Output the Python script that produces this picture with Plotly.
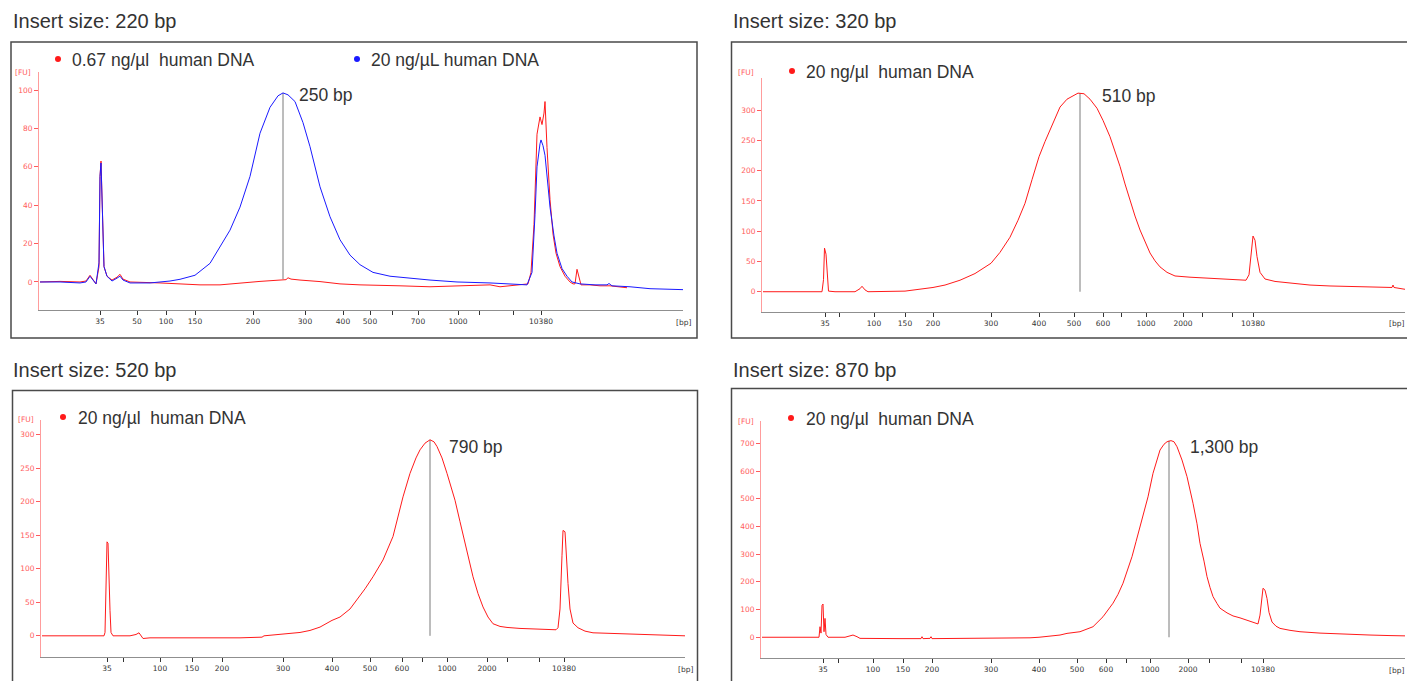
import plotly.graph_objects as go

W, H = 1407, 681

# ---------------- data (migration position units along each trace; FU values) ----------------
# Panel 1: Insert size 220 bp
p1_title = "Insert size: 220 bp"
p1_tick_pos = [61, 98, 127, 156, 214, 266, 304, 331, 353, 379, 419, 440, 474, 502]
p1_tick_lbl = ["35", "50", "100", "150", "200", "300", "400", "500", "", "700", "1000", "", "", "10380"]
p1_y_ticks = [0, 20, 40, 60, 80, 100]
p1_red_t = [1, 21, 41, 47, 51, 54, 57, 60, 61, 62, 63, 65, 68, 73, 78, 81, 84, 91, 121, 141, 161, 181, 201,
            221, 241, 247, 249, 252, 261, 281, 301, 321, 361, 391, 421, 451, 461, 476, 489, 492, 495, 498,
            501, 503, 505, 506, 507, 508, 511, 514, 517, 521, 526, 531, 534, 536, 538, 540, 542, 551, 561,
            571, 588]
p1_red_fu = [0, 0.3, 0, 0.5, 3.5, 1, -1, 8, 55, 63, 45, 8, 3, 1, 2.5, 4, 1.5, 0, -0.5, -1, -1.5, -1.5, -0.5,
             0.3, 1, 1.2, 2.2, 1.5, 1, 0.2, -1, -1.5, -2, -2.5, -2, -1.5, -2.5, -1.5, -1, 5, 30, 77,
             86, 82, 88, 94, 81, 70, 43, 25, 15, 8, 3, 0, -1, -1, 6.6, 2, -1.5, -1.5, -2,
             -2, -3]
p1_blue_t = [1, 21, 41, 47, 51, 54, 57, 60, 61, 62, 63, 65, 68, 73, 78, 81, 84, 91, 111, 121, 131, 141, 156,
             171, 181, 191, 201, 211, 221, 231, 239, 244, 249, 256, 264, 271, 281, 291, 301, 311, 321, 334,
             351, 368, 391, 418, 451, 488, 493, 496, 498, 501, 502, 504, 506, 509, 511, 515, 518, 523, 528,
             533, 541, 556, 568, 570, 573, 591, 611, 644]
p1_blue_fu = [0, 0, -0.5, 0, 3, 1, -1, 10, 55, 62, 45, 8, 3, 0.5, 2, 3, 1, -0.5, -0.5, 0, 0.5, 1.4, 3.5,
              9.7, 18, 27, 39, 55, 77.5, 91, 97, 98.5, 97.5, 94, 83, 70.5, 49.6, 34, 22, 14, 9, 5,
              3, 2, 1, 0, -0.5, -1.5, 5, 35, 60, 72, 74, 71, 66, 50, 39, 24, 15, 7, 3,
              0, -1, -1.5, -1.5, -0.8, -2, -2.5, -3.5, -4]
p1_peak = dict(t=244, top=98.5, base=1.5, label="250 bp")
p1_series = ["0.67 ng/µl  human DNA", "20 ng/µL human DNA"]

# Panel 2: Insert size 320 bp
p2_title = "Insert size: 320 bp"
p2_tick_pos = [63, 77, 112, 143, 171, 229, 277, 312, 341, 359, 384, 421, 440, 470, 491]
p2_tick_lbl = ["35", "", "100", "150", "200", "300", "400", "500", "600", "", "1000", "2000", "", "", "10380"]
p2_y_ticks = [0, 50, 100, 150, 200, 250, 300]
p2_t = [1, 38, 60, 61.5, 62.5, 64, 65, 66.5, 73, 93, 98, 100, 103, 106, 143, 158, 171, 183, 198, 213, 229,
        238, 248, 256, 263, 270, 277, 283, 288, 293, 298, 305, 310, 316, 322, 328, 335, 341, 348, 353,
        358, 363, 368, 373, 378, 383, 388, 393, 398, 405, 413, 428, 448, 468, 484, 487, 489, 491, 493,
        495, 498, 503, 513, 528, 548, 568, 598, 618, 630, 631, 632, 643]
p2_fu = [0, 0, 0, 20, 72, 62, 30, 1, 0, 0, 5, 9, 3, 0, 1, 4, 7, 11, 19, 30, 47,
         65, 90, 118, 146, 185, 223, 248, 267, 287, 305, 318, 323, 328, 327, 318, 303, 283, 256, 232,
         207, 178, 151, 125, 102, 82, 64, 51, 41, 32, 26, 24, 22, 20, 19, 28, 60, 92, 85,
         58, 32, 21, 17, 14, 11, 9.5, 8, 7, 7, 11, 7, 4]
p2_peak = dict(t=318, top=328, base=0, label="510 bp")
p2_series = ["20 ng/µl  human DNA"]

# Panel 3: Insert size 520 bp
p3_title = "Insert size: 520 bp"
p3_tick_pos = [66, 82, 119, 151, 181, 242, 291, 329, 361, 381, 406, 446, 466, 498, 523]
p3_tick_lbl = ["35", "", "100", "150", "200", "300", "400", "500", "600", "", "1000", "2000", "", "", "10380"]
p3_y_ticks = [0, 50, 100, 150, 200, 250, 300]
p3_t = [1, 39, 63, 64, 65, 66, 67, 68, 69, 70, 72, 89, 95, 98, 100, 102, 109, 149, 179, 199, 221, 223,
        242, 259, 269, 279, 291, 299, 309, 317, 324, 332, 342, 352, 362, 369, 375, 379, 384, 389, 393,
        396, 401, 406, 410, 414, 419, 424, 428, 432, 437, 442, 447, 452, 459, 466, 479, 499, 515, 517,
        519, 521, 522, 524, 525, 527, 529, 532, 537, 544, 552, 569, 599, 619, 644]
p3_fu = [0, 0, 0, 5, 56, 140, 138, 60, 38, 5, 0, 0, 2, 4.5, 1, -4, -3, -3.5, -3, -3, -2, 0,
         2.5, 5, 8, 13, 23, 28, 40, 56, 70, 88, 113, 148, 207, 242, 265, 277, 287, 292, 289,
         282, 265, 242, 222, 202, 170, 138, 112, 88, 63, 43, 28, 18, 14, 12.5, 11, 9.5, 9, 12,
         40, 120, 157, 155, 125, 78, 40, 19, 12, 7, 4.5, 3.5, 2, 1, 0]
p3_peak = dict(t=389, top=292, base=0, label="790 bp")
p3_series = ["20 ng/µl  human DNA"]

# Panel 4: Insert size 870 bp
p4_title = "Insert size: 870 bp"
p4_tick_pos = [62, 77, 112, 142, 171, 230, 278, 316, 345, 365, 389, 427, 448, 480, 502]
p4_tick_lbl = ["35", "", "100", "150", "200", "300", "400", "500", "600", "", "1000", "2000", "", "", "10380"]
p4_y_ticks = [0, 100, 200, 300, 400, 500, 600, 700]
p4_t = [1, 39, 58, 59, 60, 61, 62, 63, 64, 65, 67, 84, 89, 92, 96, 99, 139, 160, 161, 162, 169, 170, 171,
        229, 234, 239, 269, 278, 289, 299, 306, 319, 332, 342, 352, 357, 362, 367, 371, 375, 379, 383,
        387, 392, 396, 399, 403, 406, 410, 413, 416, 421, 426, 429, 432, 436, 439, 443, 446, 449, 452,
        456, 459, 466, 472, 479, 486, 492, 497, 499, 501, 502, 504, 506, 508, 511, 515, 519, 529, 539,
        559, 582, 609, 629, 644]
p4_fu = [0, 0, 0, 38, 15, 115, 120, 20, 68, 10, 0, 0, 6, 8, 2, -4, -5, -5, 2, -5, -4, 2, -5,
         -4, -3, -3, -2, 0, 3, 8, 14, 20, 38, 74, 123, 155, 195, 245, 291, 345, 399, 455,
         507, 592, 645, 676, 697, 706, 710, 706, 688, 640, 580, 535, 484, 410, 339, 275, 219, 180, 147,
         122, 105, 88, 77, 70, 62, 55, 48, 80, 160, 177, 170, 140, 90, 55, 40, 32, 25, 20,
         15, 11, 8, 6, 5]
p4_peak = dict(t=408, top=710, base=0, label="1,300 bp")
p4_series = ["20 ng/µl  human DNA"]

# ---------------- layout helpers ----------------
def fx(p):
    return p / W


def fy(p):
    return 1 - p / H


RED = "#ff1a1a"
BLUE = "#1a1aff"
TXT = "#333333"
AX_RED = "#ff9c9c"
TICK_RED = "#ff5c5c"
TITLE_FONT = dict(family="Liberation Sans, Arial, sans-serif", size=20, color=TXT)
LBL_FONT = dict(family="Liberation Sans, Arial, sans-serif", size=17.5, color=TXT)
SMALL = dict(family="DejaVu Sans, sans-serif", size=7.5, color=TXT)

panels = [
    dict(title=p1_title, ticks=(p1_tick_pos, p1_tick_lbl), yt=p1_y_ticks, yr=[-14.6, 109.4],
         traces=[(p1_red_t, p1_red_fu, RED), (p1_blue_t, p1_blue_fu, BLUE)], peak=p1_peak,
         series=p1_series, colors=[RED, BLUE],
         xpx=(39, 683), ypx=(72, 310), box=(11, 42, 697, 338), title_px=(11, 21),
         leg=[(58, 70, 60), (357, 369, 60)], peak_lbl=(297, 95), fu_px=(23, 72), bp_right=False),
    dict(title=p2_title, ticks=(p2_tick_pos, p2_tick_lbl), yt=p2_y_ticks, yr=[-33, 353],
         traces=[(p2_t, p2_fu, RED)], peak=p2_peak, series=p2_series, colors=[RED],
         xpx=(762, 1405), ypx=(78, 311.7), box=(731.5, 42, 1430, 338), title_px=(731, 21),
         leg=[(792, 804, 72)], peak_lbl=(1100, 96), fu_px=(746, 73), bp_right=True),
    dict(title=p3_title, ticks=(p3_tick_pos, p3_tick_lbl), yt=p3_y_ticks, yr=[-32, 321.5],
         traces=[(p3_t, p3_fu, RED)], peak=p3_peak, series=p3_series, colors=[RED],
         xpx=(41, 685), ypx=(420, 657.3), box=(12.5, 390.5, 697.5, 720), title_px=(11, 370),
         leg=[(63, 76, 418)], peak_lbl=(447, 447), fu_px=(26, 419), bp_right=False),
    dict(title=p4_title, ticks=(p4_tick_pos, p4_tick_lbl), yt=p4_y_ticks, yr=[-76, 782],
         traces=[(p4_t, p4_fu, RED)], peak=p4_peak, series=p4_series, colors=[RED],
         xpx=(761, 1405), ypx=(420.7, 658.3), box=(731.5, 388.5, 1430, 720), title_px=(731, 370),
         leg=[(791, 804, 419)], peak_lbl=(1188, 447), fu_px=(746, 421), bp_right=True),
]

fig = go.Figure()
annotations = []
shapes = []
layout_axes = {}

for i, p in enumerate(panels, start=1):
    xa = "x" if i == 1 else f"x{i}"
    ya = "y" if i == 1 else f"y{i}"
    xkey = "xaxis" if i == 1 else f"xaxis{i}"
    ykey = "yaxis" if i == 1 else f"yaxis{i}"
    x0, x1 = p["xpx"]
    yt, yb = p["ypx"]
    span = x1 - x0

    # peak marker line (drawn first so curves sit on top)
    pk = p["peak"]
    fig.add_trace(go.Scatter(x=[pk["t"], pk["t"]], y=[pk["base"], pk["top"]], mode="lines",
                             line=dict(color="#7a7a7a", width=1), xaxis=xa, yaxis=ya,
                             showlegend=False, hoverinfo="skip"))
    for t, v, c in p["traces"]:
        fig.add_trace(go.Scatter(x=t, y=v, mode="lines", line=dict(color=c, width=1),
                                 xaxis=xa, yaxis=ya, showlegend=False))

    layout_axes[xkey] = dict(domain=[fx(x0), fx(x1)], range=[0, span], anchor=ya,
                             showline=True, linecolor="#8f8f8f", linewidth=1,
                             ticks="outside", ticklen=4, tickcolor="#333", tickwidth=1,
                             tickmode="array", tickvals=p["ticks"][0], ticktext=p["ticks"][1],
                             tickfont=SMALL, showgrid=False, zeroline=False, fixedrange=True)
    layout_axes[ykey] = dict(domain=[fy(yb), fy(yt)], range=p["yr"], anchor=xa,
                             showline=True, linecolor=AX_RED, linewidth=1,
                             ticks="outside", ticklen=4, tickcolor=TICK_RED, tickwidth=1,
                             tickmode="array", tickvals=p["yt"],
                             tickfont=dict(family="DejaVu Sans, sans-serif", size=7.5, color=TICK_RED),
                             showgrid=False, zeroline=False, fixedrange=True)

    # frame box
    bx0, by0, bx1, by1 = p["box"]
    shapes.append(dict(type="rect", xref="paper", yref="paper", x0=fx(bx0), x1=fx(bx1),
                       y0=fy(by1), y1=fy(by0), line=dict(color="#4a4a4a", width=1.5)))
    # title
    annotations.append(dict(text=p["title"], xref="paper", yref="paper", x=fx(p["title_px"][0]),
                            y=fy(p["title_px"][1]), xanchor="left", yanchor="middle",
                            showarrow=False, font=TITLE_FONT))
    # legend dots + text
    for (dx, tx, ly), name, col in zip(p["leg"], p["series"], p["colors"]):
        r = 3
        shapes.append(dict(type="circle", xref="paper", yref="paper", x0=fx(dx - r), x1=fx(dx + r),
                           y0=fy(ly - 1 + r), y1=fy(ly - 1 - r), fillcolor=col, line=dict(width=0)))
        annotations.append(dict(text=name, xref="paper", yref="paper", x=fx(tx), y=fy(ly),
                                xanchor="left", yanchor="middle", showarrow=False, font=LBL_FONT))
    # peak label
    annotations.append(dict(text=pk["label"], xref="paper", yref="paper", x=fx(p["peak_lbl"][0]),
                            y=fy(p["peak_lbl"][1]), xanchor="left", yanchor="middle",
                            showarrow=False, font=LBL_FONT))
    # axis unit labels
    annotations.append(dict(text="[FU]", xref="paper", yref="paper", x=fx(p["fu_px"][0]),
                            y=fy(p["fu_px"][1]), xanchor="center", yanchor="middle", showarrow=False,
                            font=dict(family="DejaVu Sans, sans-serif", size=7.5, color=TICK_RED)))
    if p["bp_right"]:
        annotations.append(dict(text="[bp]", xref="paper", yref="paper", x=fx(W - 1), y=fy(yb + 12),
                                xanchor="right", yanchor="middle", showarrow=False, font=SMALL))
    else:
        annotations.append(dict(text="[bp]", xref="paper", yref="paper", x=fx(x1), y=fy(yb + 12),
                                xanchor="center", yanchor="middle", showarrow=False, font=SMALL))

fig.update_layout(width=W, height=H, margin=dict(l=0, r=0, t=0, b=0),
                  paper_bgcolor="white", plot_bgcolor="white", showlegend=False,
                  annotations=annotations, shapes=shapes, **layout_axes)

fig.write_html("out.html", config={"displayModeBar": False},
               post_script="document.body.style.margin='0';document.body.style.overflow='hidden';")
